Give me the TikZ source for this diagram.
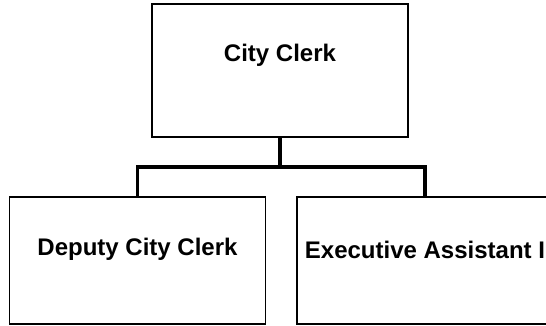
\documentclass[tikz,border=0pt]{standalone}
\usepackage{fontspec}
\setmainfont{Liberation Sans}
\usetikzlibrary{positioning}

\begin{document}
\begin{tikzpicture}[x=1pt,y=-1pt,
    post/.style={draw, line width=1.8pt, minimum width=256pt},
    topbox/.style={post, minimum height=133pt},
    subbox/.style={post, minimum height=127pt},
    title/.style={font=\bfseries\fontsize{24}{28}\selectfont, inner sep=0pt},
    link/.style={line width=3.5pt}]
    \clip (0,0) rectangle (546,326);

    % top of the tree
    \node[topbox] (clerk) at (280,70.5) {};
    \node[title] (clerktext) at (280,55.5) {City Clerk};

    % the two posts below
    \node[subbox] (deputy) at (137.5,260.5) {};
    \node[title] (deputytext) at (137.5,249.5) {Deputy City Clerk};
    \node[subbox] (assistant) at (425,260.5) {};
    \node[title] (assistanttext) at (425,249.5) {Executive Assistant I};

    % connectors
    \coordinate (bus) at (280,167);
    \draw[link] (clerk.south) -- (bus);
    \draw[link] (deputy.north) |- (bus) -| (assistant.north);
\end{tikzpicture}
\end{document}
